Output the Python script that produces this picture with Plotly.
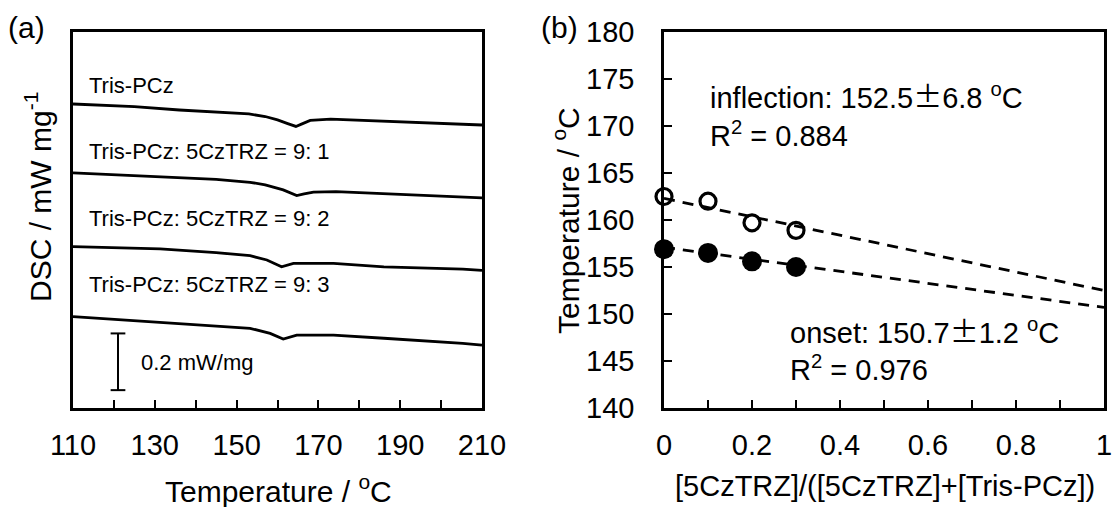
import plotly.graph_objects as go

# ---------------- data: panel (a) DSC traces (offset for display) ----------------
t1 = [110, 125, 136, 145, 153, 157, 160, 162.5, 164.5, 166, 168, 173, 185, 196, 206, 210]
d1 = [1.072, 1.063, 1.051, 1.044, 1.037, 1.028, 1.016, 1.003, 0.993, 1.002, 1.014, 1.019, 1.012, 1.007, 1.001, 0.998]

t2 = [110, 131, 145, 153.3, 157, 161.4, 164.7, 166.5, 168.8, 174.3, 186.5, 196, 205.3, 210]
d2 = [0.829, 0.816, 0.806, 0.796, 0.787, 0.769, 0.749, 0.755, 0.761, 0.763, 0.755, 0.749, 0.745, 0.741]

t3 = [110, 131.3, 145, 153.3, 157.4, 161, 163.9, 173.7, 186, 196, 205.3, 210]
d3 = [0.569, 0.561, 0.548, 0.537, 0.522, 0.498, 0.510, 0.510, 0.498, 0.494, 0.490, 0.485]

t4 = [110, 131.3, 145, 153.3, 158.2, 161.4, 164.7, 173.7, 186, 196, 205.3, 210]
d4 = [0.322, 0.302, 0.289, 0.281, 0.263, 0.243, 0.257, 0.257, 0.246, 0.238, 0.228, 0.222]

curve_labels = ["Tris-PCz", "Tris-PCz: 5CzTRZ = 9: 1", "Tris-PCz: 5CzTRZ = 9: 2", "Tris-PCz: 5CzTRZ = 9: 3"]
label_y = [1.139, 0.903, 0.670, 0.434]

scale_bar_T = 121
scale_bar_bottom = 0.063
scale_bar_len = 0.2
scale_bar_text = "0.2 mW/mg"

# ---------------- data: panel (b) ----------------
ratio = [0, 0.1, 0.2, 0.3]
t_inflection = [162.5, 162.0, 159.7, 158.9]
t_onset = [156.9, 156.5, 155.6, 155.0]
fit_x = [0, 1]
fit_inflection = [162.3, 152.5]
fit_onset = [157.1, 150.7]

W, H = 1113, 507
FONT = "Liberation Sans, Arial, sans-serif"
BLACK = "#000000"


def px(x):
    return x / W


def py(y):
    return 1 - y / H


fig = go.Figure()

# panel (a) curves
for t, d in [(t1, d1), (t2, d2), (t3, d3), (t4, d4)]:
    fig.add_trace(go.Scatter(x=t, y=d, mode="lines", line=dict(color=BLACK, width=2.8),
                             xaxis="x", yaxis="y", showlegend=False, hoverinfo="skip"))

# scale bar
cap = 1.8
sb_x = [scale_bar_T, scale_bar_T, None, scale_bar_T - cap, scale_bar_T + cap, None,
        scale_bar_T - cap, scale_bar_T + cap]
sb_y = [scale_bar_bottom, scale_bar_bottom + scale_bar_len, None,
        scale_bar_bottom, scale_bar_bottom, None,
        scale_bar_bottom + scale_bar_len, scale_bar_bottom + scale_bar_len]
fig.add_trace(go.Scatter(x=sb_x, y=sb_y, mode="lines", line=dict(color=BLACK, width=2),
                         xaxis="x", yaxis="y", showlegend=False, hoverinfo="skip"))

# panel (b) fits
dash = "11px,8px"
for fy in [fit_inflection, fit_onset]:
    fig.add_trace(go.Scatter(x=fit_x, y=fy, mode="lines", line=dict(color=BLACK, width=2.8, dash=dash),
                             xaxis="x2", yaxis="y2", showlegend=False, hoverinfo="skip", cliponaxis=False))

fig.add_trace(go.Scatter(x=ratio, y=t_inflection, mode="markers",
                         marker=dict(symbol="circle-open", size=16, color=BLACK, line=dict(width=3.2, color=BLACK)),
                         xaxis="x2", yaxis="y2", showlegend=False, cliponaxis=False))
fig.add_trace(go.Scatter(x=ratio, y=t_onset, mode="markers",
                         marker=dict(symbol="circle", size=20, color=BLACK, line=dict(width=0)),
                         xaxis="x2", yaxis="y2", showlegend=False, cliponaxis=False))

TICK = 29
axis_common = dict(showline=True, linecolor=BLACK, linewidth=2.5, mirror=True, showgrid=False,
                   zeroline=False, automargin=False, tickcolor=BLACK,
                   tickfont=dict(family=FONT, size=TICK, color=BLACK))

top_px, bot_px = 32, 408
ydom = [py(bot_px), py(top_px)]

fig.update_layout(
    width=W, height=H, margin=dict(l=0, r=0, t=0, b=0),
    paper_bgcolor="white", plot_bgcolor="white",
    font=dict(family=FONT, color=BLACK),
    xaxis=dict(domain=[px(73), px(482)], range=[110, 210], tick0=110, dtick=20,
               ticks="inside", ticklen=8, tickwidth=2, ticklabelstandoff=9,
               minor=dict(tick0=110, dtick=10, ticks="inside", ticklen=8, tickwidth=2, tickcolor=BLACK),
               anchor="y", **axis_common),
    yaxis=dict(domain=ydom, range=[0, 1.326], showticklabels=False, ticks="", anchor="x", **axis_common),
    xaxis2=dict(domain=[px(664), px(1104)], range=[0, 1], tick0=0, dtick=0.2,
                ticks="inside", ticklen=8, tickwidth=2, ticklabelstandoff=9,
                minor=dict(tick0=0, dtick=0.1, ticks="inside", ticklen=8, tickwidth=2, tickcolor=BLACK),
                anchor="y2", **axis_common),
    yaxis2=dict(domain=ydom, range=[140, 180], tick0=140, dtick=5, ticks="inside", ticklen=8,
                tickwidth=2, ticklabelstandoff=21, anchor="x2", **axis_common),
)

ann = []
f30 = dict(family=FONT, size=30, color=BLACK)
f29 = dict(family=FONT, size=29, color=BLACK)
f22 = dict(family=FONT, size=22, color=BLACK)

ann.append(dict(text="(a)", x=px(26), y=py(27), xref="paper", yref="paper", showarrow=False,
                xanchor="center", yanchor="middle", font=f30))
ann.append(dict(text="(b)", x=px(559), y=py(27), xref="paper", yref="paper", showarrow=False,
                xanchor="center", yanchor="middle", font=f30))
# axis titles
ann.append(dict(text="DSC / mW mg<sup>-1</sup>", x=px(38), y=py(197), xref="paper", yref="paper",
                showarrow=False, textangle=-90, xanchor="center", yanchor="middle", font=f30))
ann.append(dict(text="Temperature / <sup>o</sup>C", x=px(278), y=py(489), xref="paper", yref="paper",
                showarrow=False, xanchor="center", yanchor="middle", font=f30))
ann.append(dict(text="Temperature / <sup>o</sup>C", x=px(566), y=py(221), xref="paper", yref="paper",
                showarrow=False, textangle=-90, xanchor="center", yanchor="middle", font=f30))
ann.append(dict(text="[5CzTRZ]/([5CzTRZ]+[Tris-PCz])", x=px(885), y=py(486), xref="paper", yref="paper",
                showarrow=False, xanchor="center", yanchor="middle", font=f29))

# curve labels
for lab, ly in zip(curve_labels, label_y):
    ann.append(dict(text=lab, x=113.4, y=ly, xref="x", yref="y", showarrow=False,
                    xanchor="left", yanchor="middle", font=f22))
ann.append(dict(text=scale_bar_text, x=126.1, y=0.162, xref="x", yref="y", showarrow=False,
                xanchor="left", yanchor="middle", font=f22))

pm = "<span style='font-family:Noto Sans CJK JP'>\u00b1</span>"
ann.append(dict(text="inflection: 152.5" + pm + "6.8 <sup>o</sup>C", x=px(708), y=py(95), xref="paper",
                yref="paper", showarrow=False, xanchor="left", yanchor="middle", font=f29))
ann.append(dict(text="R<sup>2</sup> = 0.884", x=px(708), y=py(134), xref="paper",
                yref="paper", showarrow=False, xanchor="left", yanchor="middle", font=f29))
ann.append(dict(text="onset: 150.7" + pm + "1.2 <sup>o</sup>C", x=px(788), y=py(330), xref="paper",
                yref="paper", showarrow=False, xanchor="left", yanchor="middle", font=f29))
ann.append(dict(text="R<sup>2</sup> = 0.976", x=px(788), y=py(368), xref="paper",
                yref="paper", showarrow=False, xanchor="left", yanchor="middle", font=f29))

fig.update_layout(annotations=ann)
fig.write_html("out.html")
